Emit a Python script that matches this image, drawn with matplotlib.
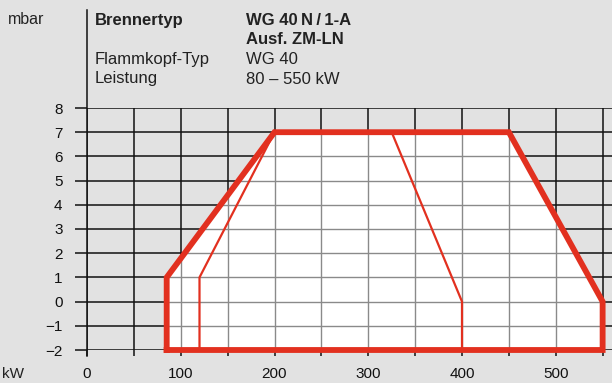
#!/usr/bin/env python3
# -*- coding: utf-8 -*-
"""
Burner working field WG 40N/1-A (Ausf. ZM-LN): pressure vs. output
"""

import matplotlib
matplotlib.use("Agg")
import matplotlib.pyplot as plt
from matplotlib.patches import Polygon
from matplotlib.lines import Line2D

# ----------- DATA -----------
# outer working field (kW, mbar)
field_kw = [85, 85, 200, 450, 550, 550]
field_mbar = [-2, 1, 7, 7, 0, -2]
# inner lines
left_kw = [120, 120, 200]
left_mbar = [-2, 1, 7]
right_kw = [325, 400, 400]
right_mbar = [7, 0, -2]

x_ticks = list(range(0, 551, 50))
x_labels = [str(v) if v % 100 == 0 else "" for v in x_ticks]
y_ticks = list(range(-2, 9))

header_left = ["Brennertyp", "", "Flammkopf-Typ", "Leistung"]
header_right = ["WG 40\u2009N\u2009/\u20091-A", "Ausf. ZM-LN", "WG 40", "80 \u2013 550 kW"]

# ----------- STYLE -----------
W, H = 612, 383
BG = "#e2e2e2"
RED = "#e2301f"
plt.rcParams["font.family"] = ["Liberation Sans", "DejaVu Sans"]

def px(x, y):
    return x / W, 1 - y / H

fig = plt.figure(figsize=(W / 100, H / 100), dpi=100, facecolor=BG)
ax = fig.add_axes([87 / W, 1 - 350 / H, (612 - 87) / W, (350 - 108) / H])
ax.set_facecolor(BG)
ax.set_xlim(0, 560)
ax.set_ylim(-2, 8)
for s in ax.spines.values():
    s.set_visible(False)

ax.set_xticks(x_ticks)
ax.set_xticklabels(x_labels)
ax.set_yticks(y_ticks)
ax.tick_params(axis="x", length=4.3, width=1.1, pad=8, labelsize=11, colors="#111111")
ax.tick_params(axis="y", length=8.6, width=1.1, pad=9, labelsize=11, colors="#111111")
ax.set_axisbelow(True)
ax.grid(True, color="#111111", linewidth=1.1)

# white field with grey grid inside
pts = list(zip(field_kw, field_mbar))
poly = Polygon(pts, closed=True, facecolor="white", edgecolor="none", zorder=1)
ax.add_patch(poly)
for xv in x_ticks:
    ln = ax.axvline(xv, color="#8a8a8a", linewidth=1.0, zorder=1.5)
    ln.set_clip_path(poly)
for yv in y_ticks:
    ln = ax.axhline(yv, color="#8a8a8a", linewidth=1.0, zorder=1.5)
    ln.set_clip_path(poly)

ax.plot(field_kw + field_kw[:1], field_mbar + field_mbar[:1], color=RED,
        linewidth=4.2, solid_joinstyle="miter", clip_on=False, zorder=3)
ax.plot(left_kw, left_mbar, color=RED, linewidth=1.6, zorder=2.5)
ax.plot(right_kw, right_mbar, color=RED, linewidth=1.6, zorder=2.5)

# left axis line reaching up into the header
fig.add_artist(Line2D([87 / W, 87 / W], [1 - 10 / H, 1 - 356 / H],
                     color="#111111", linewidth=1.1))

# ----------- TEXT -----------
fig.text(*px(8, 24), "mbar", fontsize=11.5, va="baseline", color="#222222")
fig.text(*px(2, 378), "kW", fontsize=11, va="baseline", color="#222222")
baselines = [25, 44.5, 64, 83.5]
for i, (l, r) in enumerate(zip(header_left, header_right)):
    bold = i < 2
    fw = "bold" if bold else "normal"
    if l:
        fig.text(*px(95, baselines[i]), l, fontsize=12, fontweight=fw,
                 va="baseline", color="#222222")
    fig.text(*px(246, baselines[i]), r, fontsize=12, fontweight=fw,
             va="baseline", color="#222222")

fig.savefig("out.png", dpi=100, facecolor=BG)
